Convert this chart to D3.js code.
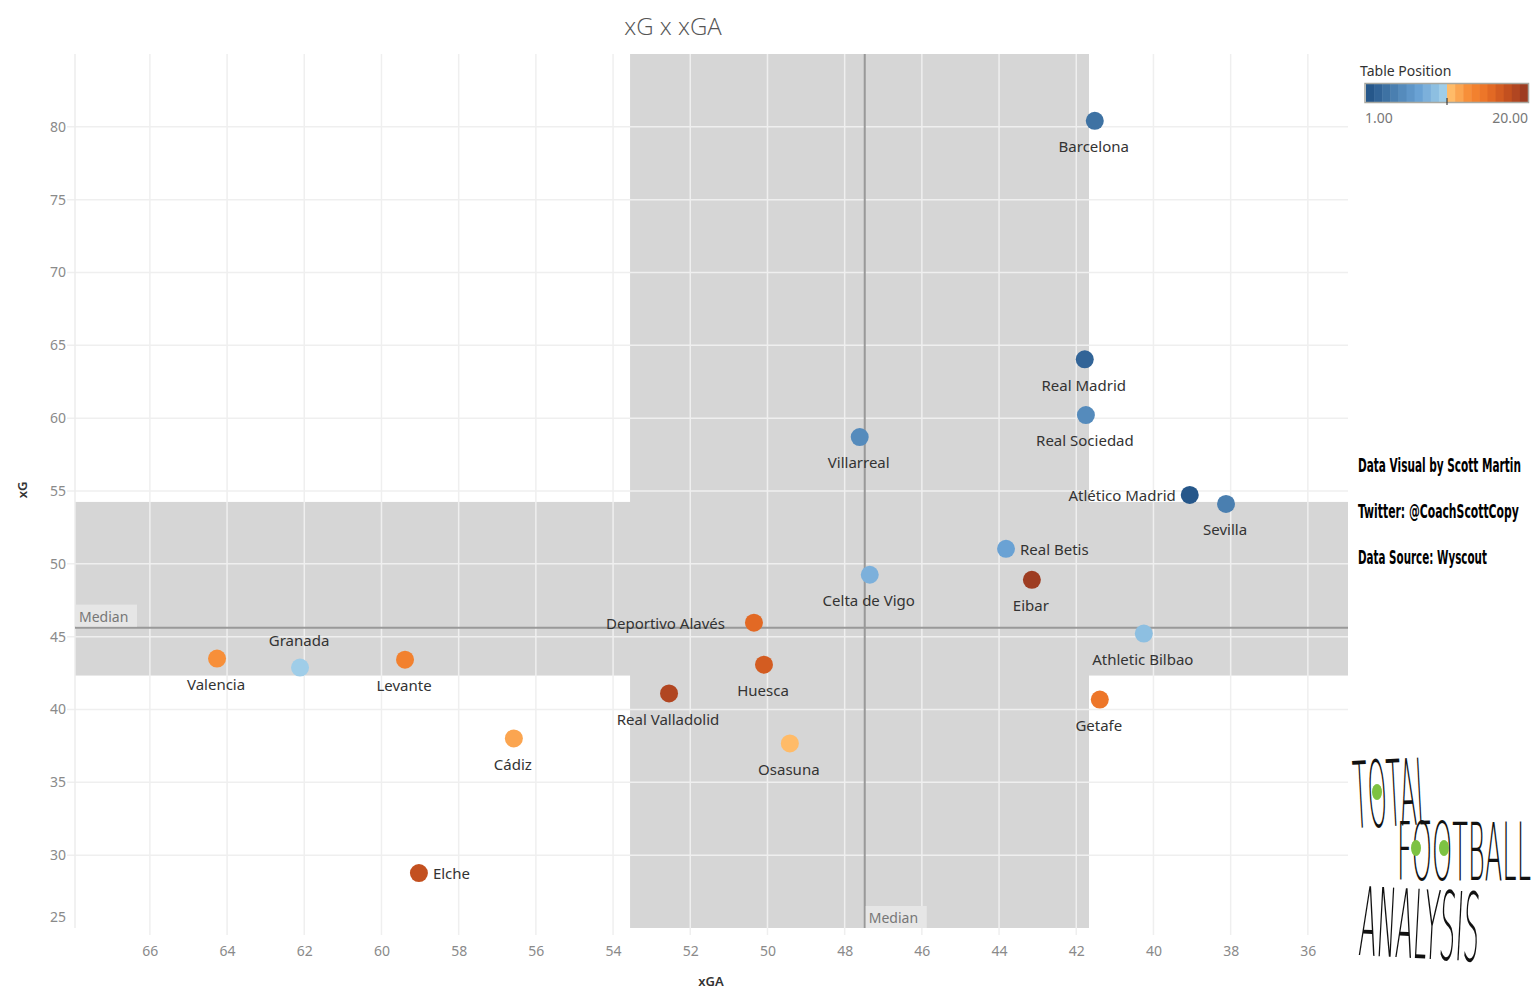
<!DOCTYPE html>
<html><head><meta charset="utf-8">
<script src="https://cdn.jsdelivr.net/npm/d3@7"></script>
<style>body{margin:0;background:#fff} svg{display:block}</style>
</head><body>
<svg id="chart" width="1535" height="1000"></svg>
<script>
// ---------- DATA ----------
const teams = ["Barcelona","Real Madrid","Real Sociedad","Villarreal","Atlético Madrid","Sevilla","Real Betis","Celta de Vigo","Eibar","Deportivo Alavés","Athletic Bilbao","Valencia","Granada","Levante","Huesca","Real Valladolid","Getafe","Cádiz","Osasuna","Elche"];
const xGAValues = [41.52,41.78,41.75,47.61,39.06,38.12,43.82,47.35,43.15,50.35,40.25,64.26,62.11,59.39,50.09,52.55,41.39,56.57,49.42,59.03];
const xGValues  = [80.41,64.04,60.21,58.70,54.73,54.11,51.03,49.25,48.90,45.96,45.21,43.50,42.88,43.42,43.08,41.10,40.68,38.01,37.67,28.77];
const tablePosition = [3,2,5,5,1,4,7,8,20,16,9,13,10,14,17,19,15,12,11,18];
const labelPlacement = ["below","below","below","below","left","below","right","below","below","left","below","below","above","below","below","below","below","below","below","right"];
const xTicks = [36,38,40,42,44,46,48,50,52,54,56,58,60,62,64,66];
const yTicks = [25,30,35,40,45,50,55,60,65,70,75,80];
const medianXGA = 47.48, medianXG = 45.62;
const bandXGA = [53.56, 41.67];
const bandXG = [42.33, 54.25];
const legendRange = [1, 20];
const creditLines = ["Data Visual by Scott Martin","Twitter: @CoachScottCopy","Data Source: Wyscout"];
const logoWords = ["TOTAL","FOOTBALL","ANALYSIS"];

// ---------- SETUP ----------
const svg = d3.select("#chart");
const L = 75, R = 1348, T = 54, B = 928;
const x = d3.scaleLinear().domain([67.94, 34.96]).range([L, R]);
const y = d3.scaleLinear().domain([25, 85]).range([B, T]);
const font = "'Noto Sans','Open Sans',sans-serif";

const blue = d3.piecewise(d3.interpolateRgb, ["#26578a","#4a7fb0","#6aa2d4","#9fcde8"]);
const orange = d3.piecewise(d3.interpolateRgb, ["#ffbb68","#f68a33","#ea7026","#c8521f","#9e3d22"]);
const color = p => p <= 10 ? blue((p-1)/9) : orange((p-11)/9);

// bands
svg.append("rect").attr("x", L).attr("width", R-L)
  .attr("y", y(bandXG[1])).attr("height", y(bandXG[0]) - y(bandXG[1])).attr("fill", "#d6d6d6");
svg.append("rect").attr("x", x(bandXGA[0])).attr("width", x(bandXGA[1]) - x(bandXGA[0]))
  .attr("y", T).attr("height", B-T).attr("fill", "#d6d6d6");

// grid
const g = svg.append("g");
g.selectAll(".vg").data(xTicks).join("line")
  .attr("x1", d=>x(d)).attr("x2", d=>x(d)).attr("y1", T).attr("y2", B+7)
  .attr("stroke", "#efefef").attr("stroke-width", 1.5);
g.selectAll(".hg").data(yTicks.filter(d=>d>25)).join("line")
  .attr("y1", d=>y(d)).attr("y2", d=>y(d)).attr("x1", L-8).attr("x2", R)
  .attr("stroke", "#efefef").attr("stroke-width", 1.5);
g.append("line").attr("x1", L).attr("x2", L).attr("y1", T).attr("y2", B).attr("stroke", "#ececec").attr("stroke-width", 1.5);

// axes labels via d3 axes
const xAxis = svg.append("g").attr("transform", `translate(0,${B+10})`)
  .call(d3.axisBottom(x).tickValues(xTicks).tickSize(0).tickPadding(8));
const yAxis = svg.append("g").attr("transform", `translate(${L-9},0)`)
  .call(d3.axisLeft(y).tickValues(yTicks).tickSize(0).tickPadding(0));
[xAxis, yAxis].forEach(a => {
  a.select(".domain").remove();
  a.selectAll("text").attr("fill", "#8a8a8a").style("font-size", "14px").style("font-family", font);
});
yAxis.selectAll(".tick").filter(d => d === 25).select("text").attr("dy", "-0.45em");

// median lines
svg.append("line").attr("x1", x(medianXGA)).attr("x2", x(medianXGA)).attr("y1", T).attr("y2", B)
  .attr("stroke", "#999").attr("stroke-width", 2);
svg.append("line").attr("x1", L).attr("x2", R).attr("y1", y(medianXG)).attr("y2", y(medianXG))
  .attr("stroke", "#999").attr("stroke-width", 2);
// median labels
svg.append("rect").attr("x", L+1).attr("y", y(medianXG)-23).attr("width", 61).attr("height", 22).attr("fill", "#e6e6e6");
svg.append("text").attr("x", L+4).attr("y", y(medianXG)-6).text("Median")
  .attr("fill", "#777").style("font-size", "14px").style("font-family", font);
svg.append("rect").attr("x", x(medianXGA)+1).attr("y", B-22).attr("width", 61).attr("height", 22).attr("fill", "#e6e6e6");
svg.append("text").attr("x", x(medianXGA)+4).attr("y", B-5).text("Median")
  .attr("fill", "#777").style("font-size", "14px").style("font-family", font);

// points
const data = teams.map((t,i)=>({team:t, xga:xGAValues[i], xg:xGValues[i], pos:tablePosition[i], lp:labelPlacement[i]}));
svg.append("g").selectAll("circle").data(data).join("circle")
  .attr("cx", d=>x(d.xga)).attr("cy", d=>y(d.xg)).attr("r", 9)
  .attr("fill", d=>color(d.pos));

svg.append("g").selectAll("text").data(data).join("text")
  .text(d=>d.team)
  .attr("x", d=> x(d.xga) + (d.lp==="right" ? 14 : d.lp==="left" ? (d.team==="Deportivo Alavés" ? -29 : -14) : -1))
  .attr("y", d=> y(d.xg) + (d.lp==="below" ? 26 : d.lp==="above" ? -27 : 1))
  .attr("dy", "0.35em")
  .attr("text-anchor", d=> d.lp==="right" ? "start" : d.lp==="left" ? "end" : "middle")
  .attr("fill", "#333").style("font-size", "15px").style("font-family", font);

// titles
svg.append("text").attr("x", 673).attr("y", 35).attr("text-anchor", "middle").text("xG x xGA")
  .attr("fill", "#555").style("font-size", "24px").style("font-weight", 300).style("font-family", "'Open Sans','Noto Sans',sans-serif");
svg.append("text").attr("x", 711).attr("y", 986).attr("text-anchor", "middle").text("xGA")
  .attr("fill", "#333").style("font-size", "13px").style("font-weight", 600).style("font-family", font);
svg.append("text").attr("transform", "translate(27,490) rotate(-90)").attr("text-anchor", "middle").text("xG")
  .attr("fill", "#333").style("font-size", "13px").style("font-weight", 600).style("font-family", font);

// legend
const lg = svg.append("g");
lg.append("text").attr("x", 1360).attr("y", 76).text("Table Position")
  .attr("fill", "#333").style("font-size", "14px").style("font-family", font);
const lx = d3.scaleLinear().domain([0.5, 20.5]).range([1366, 1528]);
lg.selectAll("rect.s").data(d3.range(legendRange[0], legendRange[1]+1)).join("rect")
  .attr("x", d=>lx(d-0.5)).attr("width", d=>lx(d+0.5)-lx(d-0.5)+0.5).attr("y", 84).attr("height", 18)
  .attr("fill", d=>color(d));
lg.append("rect").attr("x", 1365).attr("y", 83.5).attr("width", 163.5).attr("height", 19)
  .attr("fill", "none").attr("stroke", "#a8a8a0").attr("stroke-width", 1.5);
lg.append("line").attr("x1", lx(10.5)).attr("x2", lx(10.5)).attr("y1", 98).attr("y2", 105).attr("stroke", "#222");
lg.append("text").attr("x", 1365).attr("y", 123).text(legendRange[0].toFixed(2))
  .attr("fill", "#777").style("font-size", "14px").style("font-family", font);
lg.append("text").attr("x", 1528).attr("y", 123).attr("text-anchor", "end").text(legendRange[1].toFixed(2))
  .attr("fill", "#777").style("font-size", "14px").style("font-family", font);

// helper: squeeze a text horizontally to a target width (measured)
function fitText(sel, x0, y0, targetW, rot) {
  const w = sel.node().getComputedTextLength();
  const s = Math.min(1, targetW / w);
  sel.attr("transform", `translate(${x0},${y0}) rotate(${rot||0}) scale(${s},1)`);
}

// credits
const creditW = [163, 161, 129];
creditLines.forEach((t,i)=>{
  const tx = svg.append("text").text(t)
    .attr("fill", "#000").style("font-size", "19px").style("font-weight", 700)
    .style("font-family", "'DejaVu Sans Condensed','DejaVu Sans',sans-serif");
  fitText(tx, 1358, 472 + i*46, creditW[i], 0);
});

// logo
const logo = svg.append("g");
const logoSpec = [[1355,828,92,76,-3],[1397,880,80,134,0],[1358,955,95,120,3]];
logoWords.forEach((t,i)=>{
  const [x0,y0,fs,w,rot] = logoSpec[i];
  const tx = logo.append("text").text(t)
    .attr("fill", "#111").style("font-size", fs+"px").style("font-weight", 200)
    .style("font-family", "'DejaVu Sans','DejaVu Sans Condensed',sans-serif");
  fitText(tx, x0, y0, w, rot);
});
[[1377,792],[1416,848],[1444,848]].forEach(([cx,cy])=>{
  logo.append("ellipse").attr("cx", cx).attr("cy", cy).attr("rx", 5).attr("ry", 8).attr("fill", "#7dc242");
});
</script>
</body></html>
